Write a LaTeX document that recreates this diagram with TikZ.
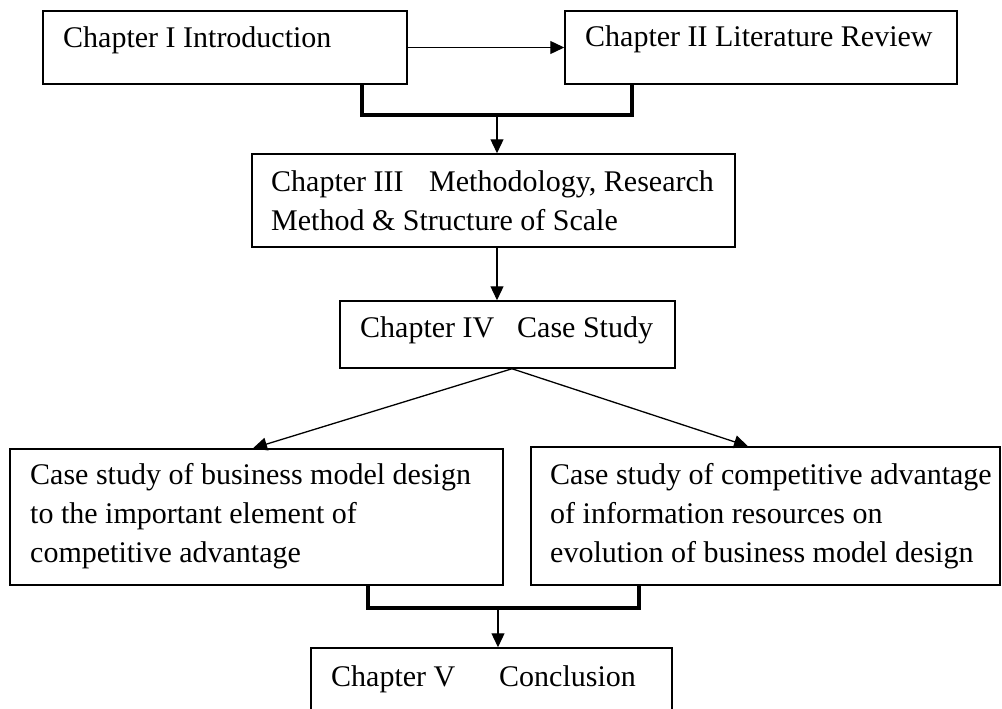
\documentclass[tikz,border=0pt]{standalone}
\usepackage{fontspec}
\setmainfont{Liberation Serif}
\usetikzlibrary{arrows.meta,fit}
\begin{document}
\begin{tikzpicture}[x=1pt,y=-1pt,
  box/.style={draw, line width=1.5pt, inner sep=0pt, rectangle},
  txt/.style={inner sep=0pt, anchor=base west, align=left, font=\fontsize{30}{39}\selectfont},
  arr/.style={line width=1.3pt, -{Triangle[length=14pt,width=13pt]}},
  bracket/.style={line width=3.6pt, line join=miter, line cap=rect}]
\clip (0,0) rectangle (1002,709);
\useasboundingbox (0,0) rectangle (1002,709);
% boxes
\node[box, fit={(43,11) (407,84)}] (b1) {};
\node[box, fit={(565,11) (957,84)}] (b2) {};
\node[box, fit={(252,154) (735,247)}] (b3) {};
\node[box, fit={(340,301) (675,368)}] (b4) {};
\node[box, fit={(10,449) (503,585)}] (b5) {};
\node[box, fit={(531,447) (1000,585)}] (b6) {};
\node[box, fit={(311,648) (672,760)}] (b7) {};
% texts (base anchor of a multi-line node is its last line)
\node[txt] (t1) at (63,48) {Chapter I Introduction};
\node[txt] (t2) at (585,47) {Chapter II Literature Review};
\node[txt] (t3) at (271,230) {\makebox[158pt][l]{Chapter III}Methodology, Research\\Method \& Structure of Scale};
\node[txt] (t4) at (360,337) {\makebox[157pt][l]{Chapter IV}Case Study};
\node[txt] (t5) at (30,562) {Case study of business model design\\to the important element of\\competitive advantage};
\node[txt] (t6) at (550,562) {Case study of competitive advantage\\of information resources on\\evolution of business model design};
\node[txt] (t7) at (331,686) {\makebox[168pt][l]{Chapter V}Conclusion};
% helper coordinates
\coordinate (k1) at (362,0);
\coordinate (k2) at (632,0);
\coordinate (j1) at (497,115);
\coordinate (c2) at (497,0);
\coordinate (ap) at (512,0);
\coordinate (h5) at (253,0);
\coordinate (h6) at (748,0);
\coordinate (k3) at (368,0);
\coordinate (k4) at (639,0);
\coordinate (j2) at (498,608);
% connectors
\draw[arr] (b1.east) -- (b2.west);
\draw[bracket] (b1.south -| k1) |- (j1) -| (b2.south -| k2);
\draw[arr] (j1) -- (b3.north -| j1);
\draw[arr] (b3.south -| c2) -- (b4.north -| c2);
\draw[arr] (b4.south -| ap) -- (b5.north -| h5);
\draw[arr] (b4.south -| ap) -- (b6.north -| h6);
\draw[bracket] (b5.south -| k3) |- (j2) -| (b6.south -| k4);
\draw[arr] (j2) -- (b7.north -| j2);
\end{tikzpicture}
\end{document}
